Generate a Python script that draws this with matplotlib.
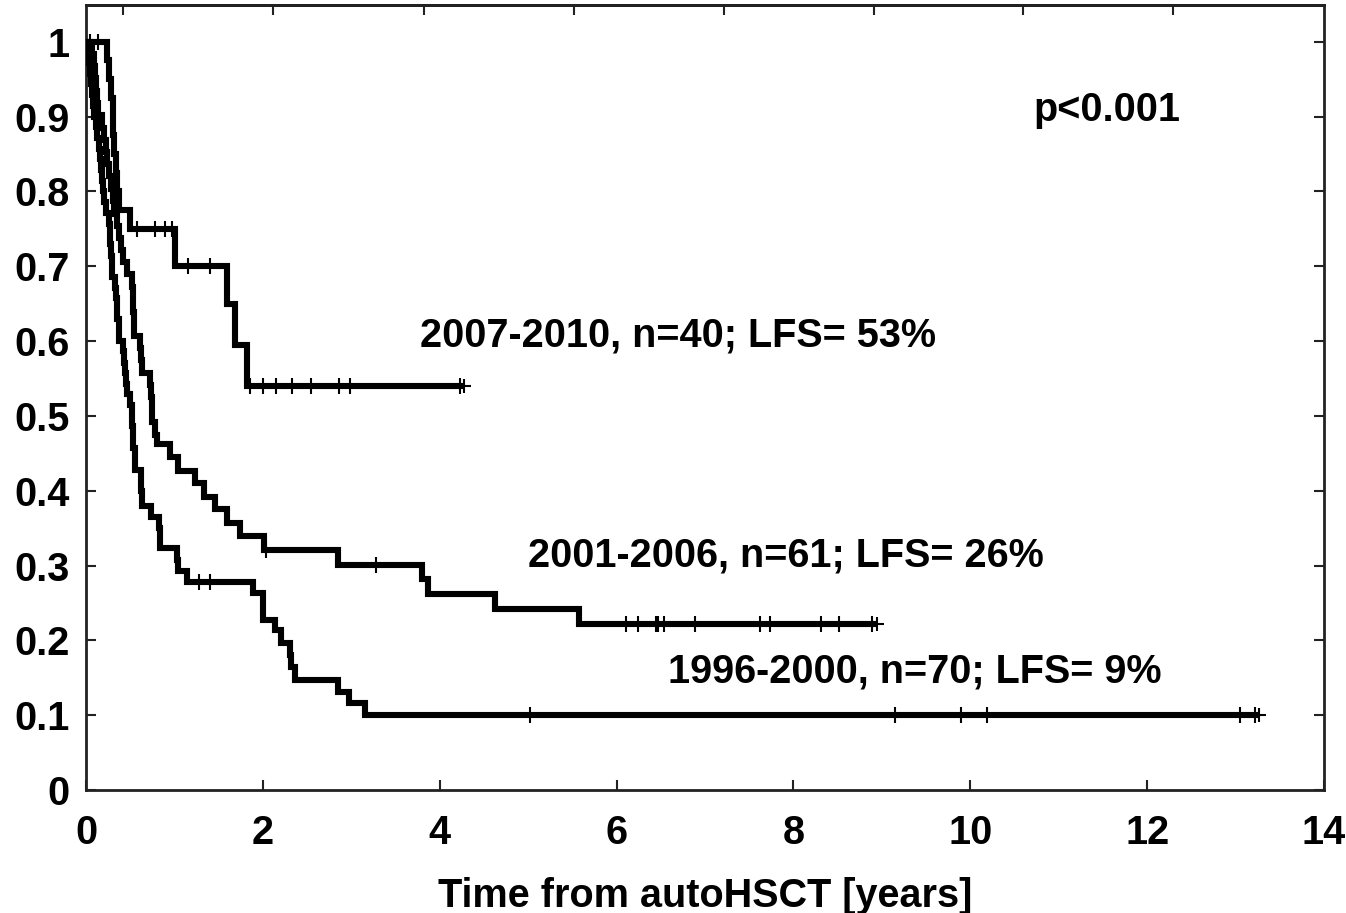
import matplotlib
matplotlib.use("Agg")
import matplotlib.pyplot as plt
import numpy as np

plt.rcParams['font.family'] = ['Liberation Sans', 'DejaVu Sans']
plt.rcParams['font.weight'] = 'bold'

# ---- data ----
# 2007-2010, n=40
t_2007 = [0.0, 0.24, 0.26, 0.28, 0.30, 0.31, 0.32, 0.34, 0.35, 0.37, 0.50, 1.01, 1.60, 1.68, 1.82]
s_2007 = [1.0, 0.975, 0.95, 0.925, 0.90, 0.875, 0.85, 0.825, 0.80, 0.775, 0.75, 0.70, 0.65, 0.595, 0.54]
end_2007 = 4.27
c_2007 = [0.05, 0.14, 0.58, 0.78, 0.89, 0.97, 1.15, 1.40, 1.85, 2.00, 2.15, 2.33, 2.54, 2.86, 2.99, 4.23]

# 2001-2006, n=61
t_2001 = [0.0, 0.07, 0.09, 0.10, 0.11, 0.12, 0.14, 0.18, 0.20, 0.23, 0.24, 0.26, 0.28, 0.30, 0.32,
          0.35, 0.37, 0.40, 0.42, 0.46, 0.52, 0.53, 0.535, 0.54, 0.545, 0.61, 0.62, 0.63, 0.72,
          0.74, 0.745, 0.75, 0.78, 0.80, 0.95, 1.04, 1.23, 1.33, 1.46, 1.59, 1.74, 2.01,
          2.85, 3.80, 3.87, 4.62, 5.58]
s_2001 = [1.0, 0.984, 0.967, 0.951, 0.934, 0.918, 0.902, 0.885, 0.869, 0.852, 0.836, 0.820, 0.803, 0.787, 0.770,
          0.754, 0.738, 0.721, 0.705, 0.689, 0.672, 0.656, 0.639, 0.623, 0.607, 0.590, 0.574, 0.557, 0.541,
          0.525, 0.508, 0.492, 0.475, 0.462, 0.445, 0.426, 0.410, 0.392, 0.375, 0.357, 0.340, 0.321,
          0.301, 0.282, 0.262, 0.242, 0.222]
end_2001 = 8.94
c_2001 = [2.04, 3.28, 6.11, 6.24, 6.45, 6.47, 6.54, 6.89, 7.62, 7.74, 8.31, 8.51, 8.89]

# 1996-2000, n=70
t_1996 = [0.0, 0.01, 0.03, 0.05, 0.06, 0.07, 0.08, 0.09, 0.11, 0.13, 0.15, 0.16, 0.17, 0.18, 0.19,
          0.20, 0.23, 0.26, 0.27, 0.275, 0.28, 0.29, 0.295, 0.33, 0.34, 0.345, 0.35, 0.37, 0.375,
          0.42, 0.425, 0.44, 0.45, 0.46, 0.50, 0.52, 0.525, 0.53, 0.535, 0.55, 0.555, 0.62, 0.625,
          0.63, 0.74, 0.83, 0.835, 0.84, 1.03, 1.035, 1.14, 1.89, 2.00, 2.005, 2.14, 2.21,
          2.31, 2.315, 2.36, 2.85, 2.97, 3.16]
s_1996 = [1.0, 0.986, 0.971, 0.957, 0.943, 0.929, 0.914, 0.900, 0.886, 0.871, 0.857, 0.843, 0.829, 0.814, 0.800,
          0.786, 0.771, 0.757, 0.743, 0.729, 0.714, 0.700, 0.686, 0.671, 0.657, 0.643, 0.629, 0.614, 0.600,
          0.586, 0.571, 0.557, 0.543, 0.529, 0.514, 0.500, 0.486, 0.471, 0.457, 0.443, 0.428, 0.414, 0.400,
          0.379, 0.365, 0.350, 0.337, 0.323, 0.308, 0.293, 0.278, 0.263, 0.245, 0.227, 0.214, 0.196,
          0.180, 0.165, 0.147, 0.131, 0.116, 0.100]
end_1996 = 13.27
c_1996 = [1.28, 1.40, 5.02, 9.15, 9.90, 10.19, 13.05, 13.22]

labels = ["2007-2010, n=40; LFS= 53%", "2001-2006, n=61; LFS= 26%", "1996-2000, n=70; LFS= 9%"]
label_pos = [(3.78, 0.608), (5.0, 0.314), (6.58, 0.158)]
p_text = "p<0.001"
x_ticks = [0, 2, 4, 6, 8, 10, 12, 14]
y_ticks = [0, 0.1, 0.2, 0.3, 0.4, 0.5, 0.6, 0.7, 0.8, 0.9, 1]
y_ticklabels = ["0", "0.1", "0.2", "0.3", "0.4", "0.5", "0.6", "0.7", "0.8", "0.9", "1"]
top_ticks = [0.414, 2.12, 3.82, 5.52, 7.22, 8.91, 10.60, 12.29]
xlabel = "Time from autoHSCT [years]"

FS = 28.5

fig = plt.figure(figsize=(13.46, 9.13), dpi=100)
ax = fig.add_axes([86/1346, (913-790)/913, (1324-86)/1346, (790-5)/913])

def km(ax, t, s, end, cens):
    tt = list(t) + [end]
    ss = list(s) + [s[-1]]
    ax.step(tt, ss, where='post', color='black', lw=4.4, solid_joinstyle='miter',
            solid_capstyle='butt', zorder=3)
    t_arr = np.array(t)
    s_arr = np.array(s)
    cy = [s_arr[np.searchsorted(t_arr, c, side='right') - 1] for c in cens]
    ax.plot(cens, cy, linestyle='none', marker='|', markersize=12, markeredgewidth=1.5,
            color='black', zorder=4)
    ax.plot([end], [s[-1]], linestyle='none', marker='+', markersize=10, markeredgewidth=1.5,
            color='black', zorder=4)

km(ax, t_2007, s_2007, end_2007, c_2007)
km(ax, t_2001, s_2001, end_2001, c_2001)
km(ax, t_1996, s_1996, end_1996, c_1996)

for lab, (x, y) in zip(labels, label_pos):
    ax.text(x, y, lab, fontsize=FS, fontweight='bold', ha='left', va='center')
ax.text(10.71, 0.909, p_text, fontsize=FS, fontweight='bold', ha='left', va='center')

ax.set_xlim(0, 14)
ax.set_ylim(0, 1.049)
ax.set_xticks(x_ticks)
ax.set_xticklabels([str(v) for v in x_ticks], fontsize=FS, fontweight='bold')
ax.set_yticks(y_ticks)
ax.set_yticklabels(y_ticklabels, fontsize=FS, fontweight='bold')
ax.tick_params(axis='both', direction='in', length=7, width=1.5, color='#222222')
ax.tick_params(axis='x', pad=17)
ax.tick_params(axis='y', pad=12, right=True)
for sp in ax.spines.values():
    sp.set_linewidth(2)
    sp.set_color('#222222')

top = ax.secondary_xaxis('top')
top.set_xticks(top_ticks)
top.set_xticklabels([])
top.tick_params(direction='in', length=7, width=1.5, color='#222222')
top.spines['top'].set_linewidth(2)

ax.set_xlabel(xlabel, fontsize=FS, fontweight='bold', labelpad=18)

fig.savefig("out.png", dpi=100)
